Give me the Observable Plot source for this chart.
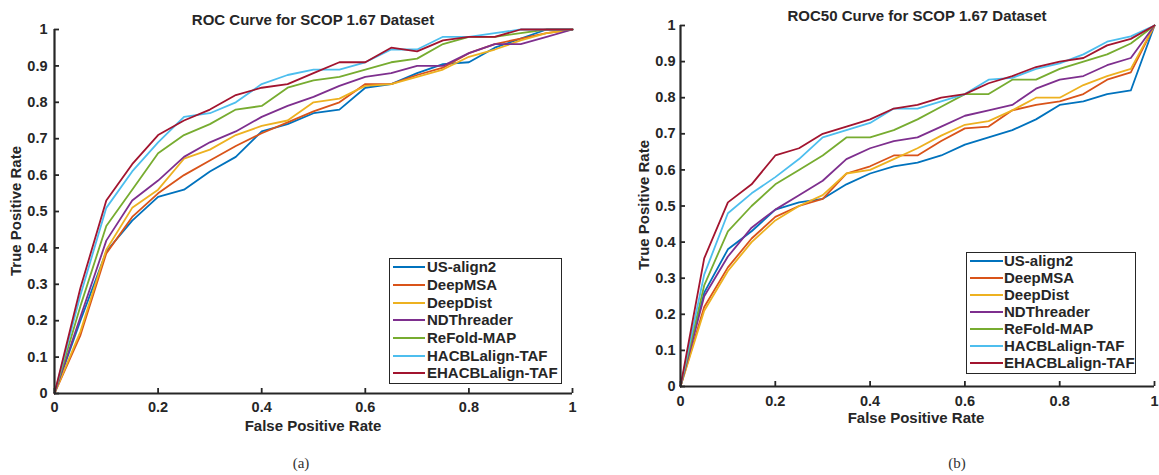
<!DOCTYPE html>
<html><head><meta charset="utf-8">
<script src="https://cdn.jsdelivr.net/npm/d3@7"></script>
<script src="https://cdn.jsdelivr.net/npm/@observablehq/plot@0.6"></script>
<style>
body{margin:0;background:#fff;}
#root{position:relative;width:1159px;height:475px;font-family:"Liberation Sans",Arial,sans-serif;color:#262626;overflow:hidden;}
#root svg{position:absolute;top:0;}
.t{position:absolute;white-space:nowrap;font-weight:bold;line-height:1;transform:translate(-50%,-50%);}
.yl{transform:translate(-50%,-50%) rotate(-90deg);}
.cap{position:absolute;font-family:"Liberation Serif","DejaVu Serif",serif;font-size:15px;color:#333;line-height:1;transform:translate(-50%,-50%);}
.legend{position:absolute;border:1.5px solid #262626;box-sizing:border-box;background:#fff;}
.legend .row{position:absolute;left:0;height:0;}
.legend .sw{position:absolute;height:2px;top:-1px;}
.legend .lt{position:absolute;font-weight:bold;font-size:15px;line-height:16px;top:-8px;white-space:nowrap;}
</style></head><body><div id="root"></div>
<script>
const methods = ["US-align2","DeepMSA","DeepDist","NDThreader","ReFold-MAP","HACBLalign-TAF","EHACBLalign-TAF"];
const colors = ["#0072BD","#D95319","#EDB120","#7E2F8E","#77AC30","#4DBEEE","#A2142F"];
const fpr = [0,0.05,0.1,0.15,0.2,0.25,0.3,0.35,0.4,0.45,0.5,0.55,0.6,0.65,0.7,0.75,0.8,0.85,0.9,0.95,1];
const xTicks = [0,0.2,0.4,0.6,0.8,1];
const yTicks = [0,0.1,0.2,0.3,0.4,0.5,0.6,0.7,0.8,0.9,1];

// Panel (a): ROC curve
const rocUSalign2 = [0,0.20,0.39,0.475,0.54,0.56,0.61,0.65,0.72,0.74,0.77,0.78,0.84,0.85,0.88,0.905,0.91,0.95,0.975,1,1];
const rocDeepMSA  = [0,0.16,0.385,0.485,0.55,0.60,0.64,0.68,0.715,0.745,0.775,0.80,0.85,0.85,0.875,0.895,0.935,0.96,0.975,0.99,1];
const rocDeepDist = [0,0.17,0.395,0.51,0.56,0.645,0.67,0.71,0.735,0.75,0.80,0.81,0.845,0.85,0.87,0.89,0.925,0.945,0.97,0.99,1];
const rocNDThreader = [0,0.21,0.42,0.53,0.585,0.65,0.69,0.72,0.76,0.79,0.815,0.845,0.87,0.88,0.90,0.90,0.935,0.96,0.96,0.98,1];
const rocReFold   = [0,0.24,0.46,0.56,0.66,0.71,0.74,0.78,0.79,0.84,0.86,0.87,0.89,0.91,0.92,0.96,0.98,0.98,0.99,1,1];
const rocHACBL    = [0,0.27,0.51,0.61,0.69,0.76,0.77,0.80,0.85,0.875,0.89,0.89,0.91,0.945,0.945,0.98,0.98,0.99,1,1,1];
const rocEHACBL   = [0,0.29,0.53,0.63,0.71,0.75,0.78,0.82,0.84,0.85,0.88,0.91,0.91,0.95,0.94,0.97,0.98,0.98,1,1,1];

// Panel (b): ROC50 curve
const r50USalign2 = [0,0.26,0.38,0.43,0.49,0.51,0.52,0.56,0.59,0.61,0.62,0.64,0.67,0.69,0.71,0.74,0.78,0.79,0.81,0.82,1];
const r50DeepMSA  = [0,0.22,0.33,0.41,0.47,0.50,0.52,0.59,0.61,0.64,0.64,0.68,0.715,0.72,0.765,0.78,0.79,0.81,0.85,0.87,1];
const r50DeepDist = [0,0.21,0.32,0.40,0.46,0.50,0.53,0.59,0.60,0.63,0.66,0.695,0.725,0.735,0.765,0.80,0.80,0.835,0.86,0.88,1];
const r50NDThreader = [0,0.25,0.36,0.44,0.49,0.53,0.57,0.63,0.66,0.68,0.69,0.72,0.75,0.765,0.78,0.825,0.85,0.86,0.89,0.91,1];
const r50ReFold   = [0,0.28,0.43,0.50,0.56,0.60,0.64,0.69,0.69,0.71,0.74,0.775,0.81,0.81,0.85,0.85,0.88,0.90,0.92,0.95,1];
const r50HACBL    = [0,0.31,0.48,0.535,0.58,0.63,0.69,0.71,0.73,0.77,0.77,0.79,0.81,0.85,0.855,0.88,0.895,0.92,0.955,0.97,1];
const r50EHACBL   = [0,0.355,0.51,0.56,0.64,0.66,0.70,0.72,0.74,0.77,0.78,0.80,0.81,0.84,0.86,0.885,0.90,0.91,0.945,0.963,1];

const seriesA = [rocUSalign2,rocDeepMSA,rocDeepDist,rocNDThreader,rocReFold,rocHACBL,rocEHACBL];
const seriesB = [r50USalign2,r50DeepMSA,r50DeepDist,r50NDThreader,r50ReFold,r50HACBL,r50EHACBL];

const fmt = d => d === 0 ? "0" : d === 1 ? "1" : d.toFixed(1);
const AX = "#262626";

function panel({series, width, height, mt, mb, ml, mr, padX, padY}) {
  const rows = methods.flatMap((m, i) => series[i].map((v, j) => ({method: m, x: fpr[j], y: v})));
  const pw = width - ml - mr, ph = height - mt - mb;
  return Plot.plot({
    width, height, marginTop: mt, marginBottom: mb, marginLeft: ml, marginRight: mr,
    x: {domain: [0, 1]}, y: {domain: [0, 1]},
    color: {domain: methods, range: colors},
    style: {fontFamily: "Liberation Sans, Arial, sans-serif", fontSize: "14.5px", color: AX, background: "transparent", overflow: "visible"},
    marks: [
      Plot.line(rows, {x: "x", y: "y", z: "method", stroke: "method", strokeWidth: 1.8}),
      Plot.axisX(xTicks, {tickSize: 0, tickPadding: padX, tickFormat: fmt, label: null, fontWeight: "bold", fontSize: 14.5}),
      Plot.axisY(yTicks, {tickSize: 0, tickPadding: padY, tickFormat: fmt, label: null, fontWeight: "bold", fontSize: 14.5}),
      Plot.tickX(xTicks, {x: d => d, insetTop: ph - 5, stroke: AX, strokeWidth: 1.8}),
      Plot.tickY(yTicks, {y: d => d, insetRight: pw - 5, stroke: AX, strokeWidth: 1.8}),
      Plot.ruleX([0], {stroke: AX, strokeWidth: 2.2}),
      Plot.ruleY([0], {stroke: AX, strokeWidth: 2.2})
    ]
  });
}

const root = document.getElementById("root");
const svgA = panel({series: seriesA, width: 580, height: 440, mt: 29, mb: 47, ml: 54, mr: 8, padX: 8, padY: 7});
svgA.style.left = "0px";
root.appendChild(svgA);
const svgB = panel({series: seriesB, width: 559, height: 440, mt: 25, mb: 54, ml: 80, mr: 5, padX: 9, padY: 5});
svgB.style.left = "600px";
root.appendChild(svgB);

function addText(cls, txt, x, y, size) {
  const d = document.createElement("div");
  d.className = cls; d.textContent = txt;
  d.style.left = x + "px"; d.style.top = y + "px";
  if (size) d.style.fontSize = size + "px";
  root.appendChild(d);
}
addText("t", "ROC Curve for SCOP 1.67 Dataset", 313, 19, 15);
addText("t", "ROC50 Curve for SCOP 1.67 Dataset", 917, 15, 15);
addText("t", "False Positive Rate", 313, 425, 15);
addText("t", "False Positive Rate", 916, 417, 15);
addText("t yl", "True Positive Rate", 15, 211, 15);
addText("t yl", "True Positive Rate", 643, 205, 15);
addText("cap", "(a)", 301, 463);
addText("cap", "(b)", 957, 463);

function legend(left, top, w, h, first, step, lineL, lineW, textL) {
  const box = document.createElement("div");
  box.className = "legend";
  Object.assign(box.style, {left: left + "px", top: top + "px", width: w + "px", height: h + "px"});
  methods.forEach((m, i) => {
    const r = document.createElement("div");
    r.className = "row"; r.style.top = (first + i * step - 1.5) + "px";
    const sw = document.createElement("div");
    sw.className = "sw"; Object.assign(sw.style, {left: lineL + "px", width: lineW + "px", background: colors[i]});
    const lt = document.createElement("div");
    lt.className = "lt"; lt.style.left = textL + "px"; lt.textContent = m;
    r.appendChild(sw); r.appendChild(lt); box.appendChild(r);
  });
  root.appendChild(box);
}
legend(389, 258, 173, 126, 9.7, 17.7, 3, 32, 37);
legend(966, 252, 170, 122, 9.7, 16.9, 3, 33, 37);
</script>
</body></html>
